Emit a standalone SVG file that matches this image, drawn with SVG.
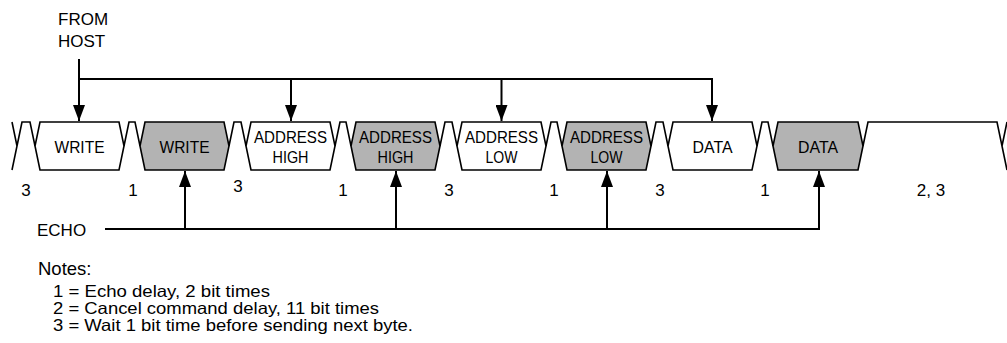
<svg xmlns="http://www.w3.org/2000/svg" width="1007" height="343" viewBox="0 0 1007 343">
<style>
text{font-family:"Liberation Sans",Arial,Helvetica,sans-serif;fill:#000}
.lbl{font-size:17px;text-anchor:middle}
.num{font-size:17px;text-anchor:middle}
.side{font-size:17px}
.note{font-size:16.5px}
.head{font-size:18.5px}
.box{stroke:#000;stroke-width:1.6;stroke-linejoin:miter}
.w{fill:#fff}
.g{fill:#b3b3b3}
.wave{fill:none;stroke:#000;stroke-width:1.6}
.conn{fill:none;stroke:#000;stroke-width:2}
</style>
<defs>
<marker id="ah" markerUnits="userSpaceOnUse" markerWidth="16" markerHeight="12" refX="16" refY="6" orient="auto">
<path d="M0,0 L16,6 L0,12 z" fill="#000"/>
</marker>
</defs>
<g id="idle-wave">
<path class="wave" d="M12,122 L17,146 L12,170 M17,146 L22,122 L30,122 L35,146"/>
<path class="wave" d="M124,146 L129,122 L135,122 L140,146"/>
<path class="wave" d="M229,146 L234,122 L241,122 L246,146"/>
<path class="wave" d="M335,146 L340,122 L346,122 L351,146"/>
<path class="wave" d="M440,146 L445,122 L452,122 L457,146"/>
<path class="wave" d="M546,146 L551,122 L557,122 L562,146"/>
<path class="wave" d="M651,146 L656,122 L663,122 L668,146"/>
<path class="wave" d="M757,146 L762,122 L768,122 L773,146"/>
<path class="wave" d="M863,146 L868,122 L997,122 L1002,146 L1007,170 M1002,146 L1007,122"/>
</g>
<g id="n-write-host">
<polygon class="box w" points="40,122 119,122 124,146 119,170 40,170 35,146"/>
<text class="lbl" x="79.5" y="153" textLength="50" lengthAdjust="spacingAndGlyphs">WRITE</text>
</g>
<g id="n-write-echo">
<polygon class="box g" points="145,122 224,122 229,146 224,170 145,170 140,146"/>
<text class="lbl" x="184.5" y="153" textLength="50" lengthAdjust="spacingAndGlyphs">WRITE</text>
</g>
<g id="n-addrhigh-host">
<polygon class="box w" points="251,122 330,122 335,146 330,170 251,170 246,146"/>
<text class="lbl" x="290.5" y="143" textLength="73" lengthAdjust="spacingAndGlyphs">ADDRESS</text>
<text class="lbl" x="290.5" y="163" textLength="36" lengthAdjust="spacingAndGlyphs">HIGH</text>
</g>
<g id="n-addrhigh-echo">
<polygon class="box g" points="356,122 435,122 440,146 435,170 356,170 351,146"/>
<text class="lbl" x="395.5" y="143" textLength="73" lengthAdjust="spacingAndGlyphs">ADDRESS</text>
<text class="lbl" x="395.5" y="163" textLength="36" lengthAdjust="spacingAndGlyphs">HIGH</text>
</g>
<g id="n-addrlow-host">
<polygon class="box w" points="462,122 541,122 546,146 541,170 462,170 457,146"/>
<text class="lbl" x="501.5" y="143" textLength="73" lengthAdjust="spacingAndGlyphs">ADDRESS</text>
<text class="lbl" x="501.5" y="163" textLength="32" lengthAdjust="spacingAndGlyphs">LOW</text>
</g>
<g id="n-addrlow-echo">
<polygon class="box g" points="567,122 646,122 651,146 646,170 567,170 562,146"/>
<text class="lbl" x="606.5" y="143" textLength="73" lengthAdjust="spacingAndGlyphs">ADDRESS</text>
<text class="lbl" x="606.5" y="163" textLength="32" lengthAdjust="spacingAndGlyphs">LOW</text>
</g>
<g id="n-data-host">
<polygon class="box w" points="673,122 752,122 757,146 752,170 673,170 668,146"/>
<text class="lbl" x="712.5" y="153" textLength="40" lengthAdjust="spacingAndGlyphs">DATA</text>
</g>
<g id="n-data-echo">
<polygon class="box g" points="778,122 858,122 863,146 858,170 778,170 773,146"/>
<text class="lbl" x="818" y="153" textLength="40" lengthAdjust="spacingAndGlyphs">DATA</text>
</g>
<g id="labels">
<text class="side" x="58" y="25">FROM</text>
<text class="side" x="58" y="47">HOST</text>
<text class="side" x="37" y="236">ECHO</text>
<text class="num" x="26" y="196">3</text>
<text class="num" x="133" y="196">1</text>
<text class="num" x="238" y="192">3</text>
<text class="num" x="343" y="196">1</text>
<text class="num" x="449" y="196">3</text>
<text class="num" x="554" y="196">1</text>
<text class="num" x="660" y="196">3</text>
<text class="num" x="765" y="196">1</text>
<text class="num" x="931" y="196">2, 3</text>
<text class="head" x="38" y="275">Notes:</text>
<text class="note" x="53" y="297" textLength="217" lengthAdjust="spacingAndGlyphs">1 = Echo delay, 2 bit times</text>
<text class="note" x="53" y="314" textLength="326" lengthAdjust="spacingAndGlyphs">2 = Cancel command delay, 11 bit times</text>
<text class="note" x="53" y="331" textLength="360" lengthAdjust="spacingAndGlyphs">3 = Wait 1 bit time before sending next byte.</text>
</g>
<g id="connectors">
<path class="conn" d="M79,59 V121" marker-end="url(#ah)"/>
<path class="conn" d="M79,79 H713"/>
<path class="conn" d="M291,79 V121" marker-end="url(#ah)"/>
<path class="conn" d="M501.5,79 V121" marker-end="url(#ah)"/>
<path class="conn" d="M712,79 V121" marker-end="url(#ah)"/>
<path class="conn" d="M105,229 H820"/>
<path class="conn" d="M185,229 V171" marker-end="url(#ah)"/>
<path class="conn" d="M396,229 V171" marker-end="url(#ah)"/>
<path class="conn" d="M607,229 V171" marker-end="url(#ah)"/>
<path class="conn" d="M819,230 V171" marker-end="url(#ah)"/>
</g>
</svg>
